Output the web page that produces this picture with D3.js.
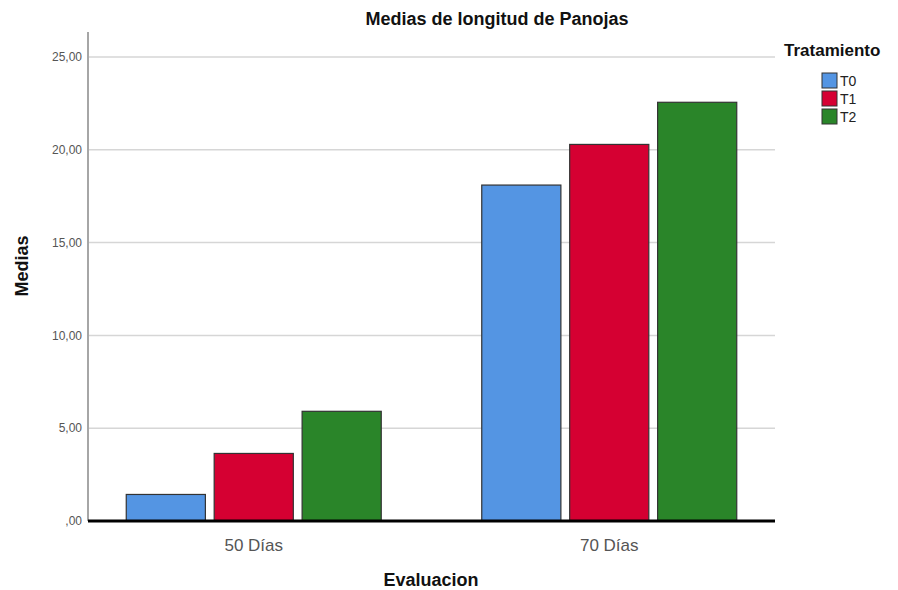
<!DOCTYPE html>
<html>
<head>
<meta charset="utf-8">
<script src="https://cdn.jsdelivr.net/npm/d3@7"></script>
<style>
  body { margin: 0; background: #fff; }
  svg { display: block; }
  .tick-y { font-family: "Liberation Sans", Arial, sans-serif; font-size: 12px; fill: #555; }
  .tick-x { font-family: "Liberation Sans", Arial, sans-serif; font-size: 17px; fill: #555; }
  .bold { font-family: "Liberation Sans", Arial, sans-serif; font-weight: 700; fill: #111; }
</style>
</head>
<body>
<svg id="chart" width="898" height="590"></svg>
<script>
// Data
const categories = ['50 Días', '70 Días'];
const series = ['T0', 'T1', 'T2'];
const valuesT0 = [1.43, 18.10];
const valuesT1 = [3.64, 20.29];
const valuesT2 = [5.91, 22.56];
const yTicks = [0, 5, 10, 15, 20, 25];
const tickLabels = [',00', '5,00', '10,00', '15,00', '20,00', '25,00'];
const colors = ['#5495e3', '#d50032', '#2a8529'];

const svg = d3.select('#chart');

// Plot area (axis line from top to bottom, gridlines from left to right)
const plot = { left: 88, right: 775, top: 32, bottom: 521 };

const yScale = d3.scaleLinear().domain([0, 25]).range([plot.bottom, 57]);
const xScale = d3.scaleBand().domain(categories).range([76, 787]);
const inner = d3.scaleBand().domain(series).range([0, 255]).paddingInner(0.1);

const rows = categories.map((c, i) => ({
  cat: c,
  vals: [valuesT0[i], valuesT1[i], valuesT2[i]]
}));

// Gridlines
svg.append('g')
  .selectAll('line')
  .data(yTicks.filter((d) => d > 0))
  .join('line')
  .attr('x1', plot.left)
  .attr('x2', plot.right)
  .attr('y1', (d) => yScale(d))
  .attr('y2', (d) => yScale(d))
  .attr('stroke', '#d6d6d6')
  .attr('stroke-width', 1.5);

// Y axis line
svg.append('line')
  .attr('x1', plot.left).attr('x2', plot.left)
  .attr('y1', plot.top).attr('y2', plot.bottom)
  .attr('stroke', '#a6a6a6')
  .attr('stroke-width', 2);

// Y tick labels
svg.append('g')
  .selectAll('text')
  .data(yTicks)
  .join('text')
  .attr('class', 'tick-y')
  .attr('x', plot.left - 6)
  .attr('y', (d) => yScale(d))
  .attr('dy', '0.35em')
  .attr('text-anchor', 'end')
  .text((d, i) => tickLabels[i]);

// Bars
const groups = svg.append('g')
  .selectAll('g')
  .data(rows)
  .join('g')
  .attr('transform', (d) => `translate(${xScale(d.cat) + (xScale.bandwidth() - 255) / 2},0)`);

groups.selectAll('rect')
  .data((d) => d.vals.map((v, i) => ({ key: series[i], v })))
  .join('rect')
  .attr('x', (d) => inner(d.key))
  .attr('width', inner.bandwidth())
  .attr('y', (d) => yScale(d.v))
  .attr('height', (d) => plot.bottom - yScale(d.v))
  .attr('fill', (d, i) => colors[i])
  .attr('stroke', '#333')
  .attr('stroke-width', 1.2);

// Baseline
svg.append('line')
  .attr('x1', plot.left).attr('x2', plot.right)
  .attr('y1', plot.bottom).attr('y2', plot.bottom)
  .attr('stroke', '#000')
  .attr('stroke-width', 3);

// X tick labels
svg.append('g')
  .selectAll('text')
  .data(categories)
  .join('text')
  .attr('class', 'tick-x')
  .attr('x', (d) => xScale(d) + xScale.bandwidth() / 2)
  .attr('y', 551)
  .attr('text-anchor', 'middle')
  .text((d) => d);

// Titles
svg.append('text')
  .attr('class', 'bold')
  .attr('x', 497).attr('y', 25)
  .attr('text-anchor', 'middle')
  .style('font-size', '18px')
  .text('Medias de longitud de Panojas');

svg.append('text')
  .attr('class', 'bold')
  .attr('x', 431).attr('y', 586)
  .attr('text-anchor', 'middle')
  .style('font-size', '18px')
  .text('Evaluacion');

svg.append('text')
  .attr('class', 'bold')
  .attr('transform', 'translate(28,266) rotate(-90)')
  .attr('text-anchor', 'middle')
  .style('font-size', '18px')
  .text('Medias');

// Legend
const legend = svg.append('g');
legend.append('text')
  .attr('class', 'bold')
  .attr('x', 784).attr('y', 56)
  .style('font-size', '17px')
  .text('Tratamiento');

const items = legend.selectAll('g')
  .data(series)
  .join('g')
  .attr('transform', (d, i) => `translate(822,${73 + i * 18})`);

items.append('rect')
  .attr('width', 15).attr('height', 15)
  .attr('fill', (d, i) => colors[i])
  .attr('stroke', '#333')
  .attr('stroke-width', 1);

items.append('text')
  .attr('x', 18).attr('y', 8)
  .attr('dy', '0.35em')
  .style('font-family', '"Liberation Sans Narrow", "Liberation Sans", sans-serif')
  .style('font-size', '14px')
  .style('fill', '#222')
  .text((d) => d);
</script>
</body>
</html>
